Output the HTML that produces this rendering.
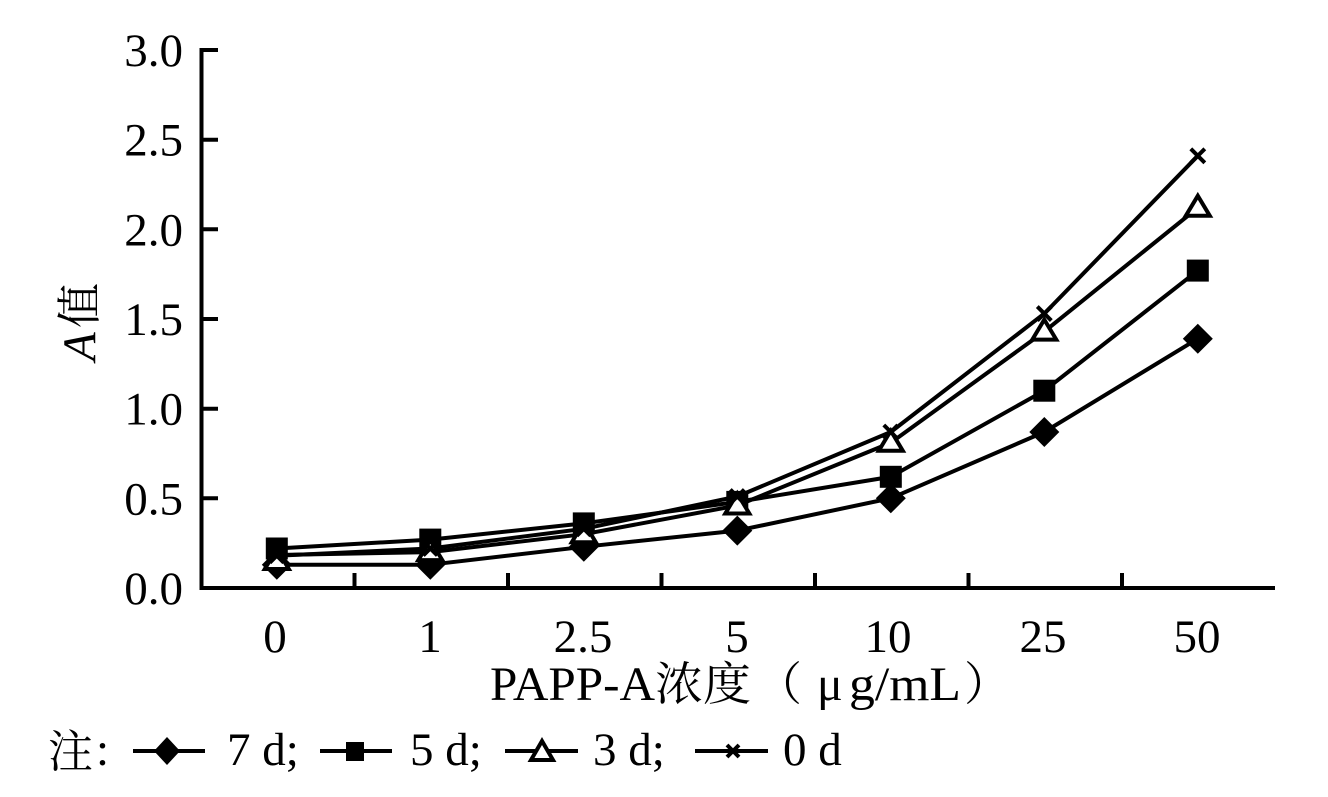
<!DOCTYPE html>
<html><head><meta charset="utf-8"><style>
html,body{margin:0;padding:0;background:#fff;}
svg{display:block;}
text{font-family:"Liberation Serif","Noto Serif CJK SC",serif;fill:#000;}
.cjk{font-family:"Noto Serif CJK SC","Noto Sans CJK SC",serif;}
.it{font-style:italic;}
</style></head><body>
<svg width="1328" height="797" viewBox="0 0 1328 797" xmlns="http://www.w3.org/2000/svg">
<rect width="1328" height="797" fill="#fff"/>
<!-- axes -->
<g stroke="#000" stroke-width="4" fill="none">
<line x1="201.5" y1="48" x2="201.5" y2="590"/>
<line x1="199.5" y1="588" x2="1275" y2="588"/>
<line x1="200" y1="50" x2="218" y2="50"/>
<line x1="200" y1="139.7" x2="218" y2="139.7"/>
<line x1="200" y1="229.3" x2="218" y2="229.3"/>
<line x1="200" y1="319" x2="218" y2="319"/>
<line x1="200" y1="408.7" x2="218" y2="408.7"/>
<line x1="200" y1="498.3" x2="218" y2="498.3"/>
<line x1="354.5" y1="588" x2="354.5" y2="573"/>
<line x1="508" y1="588" x2="508" y2="573"/>
<line x1="661.5" y1="588" x2="661.5" y2="573"/>
<line x1="815" y1="588" x2="815" y2="573"/>
<line x1="968.5" y1="588" x2="968.5" y2="573"/>
<line x1="1122" y1="588" x2="1122" y2="573"/>
</g>
<!-- y tick labels -->
<g font-size="47" text-anchor="end">
<text x="183" y="66">3.0</text>
<text x="183" y="155.7">2.5</text>
<text x="183" y="245.3">2.0</text>
<text x="183" y="335">1.5</text>
<text x="183" y="424.7">1.0</text>
<text x="183" y="514.3">0.5</text>
<text x="183" y="604">0.0</text>
</g>
<!-- x tick labels -->
<g font-size="47" text-anchor="middle">
<text x="275" y="652">0</text>
<text x="430" y="652">1</text>
<text x="583" y="652">2.5</text>
<text x="737" y="652">5</text>
<text x="888" y="652">10</text>
<text x="1043" y="652">25</text>
<text x="1197" y="652">50</text>
</g>
<!-- axis titles -->
<text x="490" y="700" font-size="48" textLength="165" lengthAdjust="spacingAndGlyphs">PAPP-A</text>
<text class="cjk" x="655" y="700" font-size="46" textLength="96" lengthAdjust="spacingAndGlyphs">浓度</text>
<text class="cjk" x="756" y="700" font-size="46">（</text>
<text x="817" y="700" font-size="48">μ</text>
<text x="849" y="700" font-size="48" textLength="112" lengthAdjust="spacingAndGlyphs">g/mL</text>
<text class="cjk" x="964" y="700" font-size="46">）</text>
<g transform="translate(95,361) rotate(-90)">
<text class="it" x="0" y="0" font-size="47" font-style="italic">A</text>
<text class="cjk" x="33" y="0" font-size="45">值</text>
</g>
<!-- series lines -->
<g stroke="#000" stroke-width="4" fill="none" stroke-linejoin="round">
<polyline points="276.8,564.7 430.3,564.7 583.8,546.8 737.3,530.6 890.8,498.3 1044.3,432 1197.8,338.7"/>
<polyline points="276.8,548.5 430.3,539.6 583.8,523.4 737.3,501.9 890.8,476.8 1044.3,390.7 1197.8,270.6"/>
<polyline points="276.8,555 430.3,552.1 583.8,534.2 737.3,505.5 890.8,442.7 1044.3,331.6 1197.8,207.8"/>
<polyline points="276.8,555.7 430.3,548.5 583.8,528.8 737.3,496.5 890.8,432 1044.3,313.6 1197.8,155.8"/>
</g>
<!-- diamonds 7d -->
<g fill="#000">
<path d="M276.8,549.7 L291.8,564.7 L276.8,579.7 L261.8,564.7Z"/>
<path d="M430.3,549.7 L445.3,564.7 L430.3,579.7 L415.3,564.7Z"/>
<path d="M583.8,531.8 L598.8,546.8 L583.8,561.8 L568.8,546.8Z"/>
<path d="M737.3,515.6 L752.3,530.6 L737.3,545.6 L722.3,530.6Z"/>
<path d="M890.8,483.3 L905.8,498.3 L890.8,513.3 L875.8,498.3Z"/>
<path d="M1044.3,417 L1059.3,432 L1044.3,447 L1029.3,432Z"/>
<path d="M1197.8,323.7 L1212.8,338.7 L1197.8,353.7 L1182.8,338.7Z"/>
</g>
<!-- squares 5d -->
<g fill="#000">
<rect x="265.8" y="537.5" width="22" height="22"/>
<rect x="419.3" y="528.6" width="22" height="22"/>
<rect x="572.8" y="512.4" width="22" height="22"/>
<rect x="726.3" y="490.9" width="22" height="22"/>
<rect x="879.8" y="465.8" width="22" height="22"/>
<rect x="1033.3" y="379.7" width="22" height="22"/>
<rect x="1186.8" y="259.6" width="22" height="22"/>
</g>
<!-- triangles 3d -->
<g fill="#fff" stroke="#000" stroke-width="4" stroke-linejoin="miter">
<path d="M276.8,549 L288.8,569 L264.8,569Z"/>
<path d="M430.3,540.1 L442.3,560.1 L418.3,560.1Z"/>
<path d="M583.8,522.2 L595.8,542.2 L571.8,542.2Z"/>
<path d="M737.3,493.5 L749.3,513.5 L725.3,513.5Z"/>
<path d="M890.8,430.7 L902.8,450.7 L878.8,450.7Z"/>
<path d="M1044.3,319.6 L1056.3,339.6 L1032.3,339.6Z"/>
<path d="M1197.8,195.8 L1209.8,215.8 L1185.8,215.8Z"/>
</g>
<!-- crosses 0d -->
<g stroke="#000" stroke-width="4">
<path d="M269.8,548.7 L283.8,562.7 M283.8,548.7 L269.8,562.7"/>
<path d="M423.3,541.5 L437.3,555.5 M437.3,541.5 L423.3,555.5"/>
<path d="M576.8,521.8 L590.8,535.8 M590.8,521.8 L576.8,535.8"/>
<path d="M730.3,489.5 L744.3,503.5 M744.3,489.5 L730.3,503.5"/>
<path d="M883.8,425 L897.8,439 M897.8,425 L883.8,439"/>
<path d="M1037.3,306.6 L1051.3,320.6 M1051.3,306.6 L1037.3,320.6"/>
<path d="M1190.8,148.8 L1204.8,162.8 M1204.8,148.8 L1190.8,162.8"/>
</g>
<!-- legend -->
<text class="cjk" x="48" y="767" font-size="45">注</text>
<text x="96" y="765" font-size="47">:</text>
<g stroke="#000" stroke-width="4">
<line x1="133" y1="751" x2="205" y2="751"/>
<line x1="320" y1="751" x2="392" y2="751"/>
<line x1="505" y1="751" x2="578" y2="751"/>
<line x1="695" y1="751" x2="768" y2="751"/>
</g>
<path d="M167,737 L180,751 L167,765 L154,751Z" fill="#000"/>
<rect x="346" y="742" width="18" height="19" fill="#000"/>
<path d="M542,741 L553,760 L531,760Z" fill="#fff" stroke="#000" stroke-width="4"/>
<path d="M727,745 L739,757 M739,745 L727,757" stroke="#000" stroke-width="4"/>
<g font-size="47">
<text x="227" y="765">7 d;</text>
<text x="410" y="765">5 d;</text>
<text x="593" y="765">3 d;</text>
<text x="783" y="765">0 d</text>
</g>
</svg>
</body></html>
